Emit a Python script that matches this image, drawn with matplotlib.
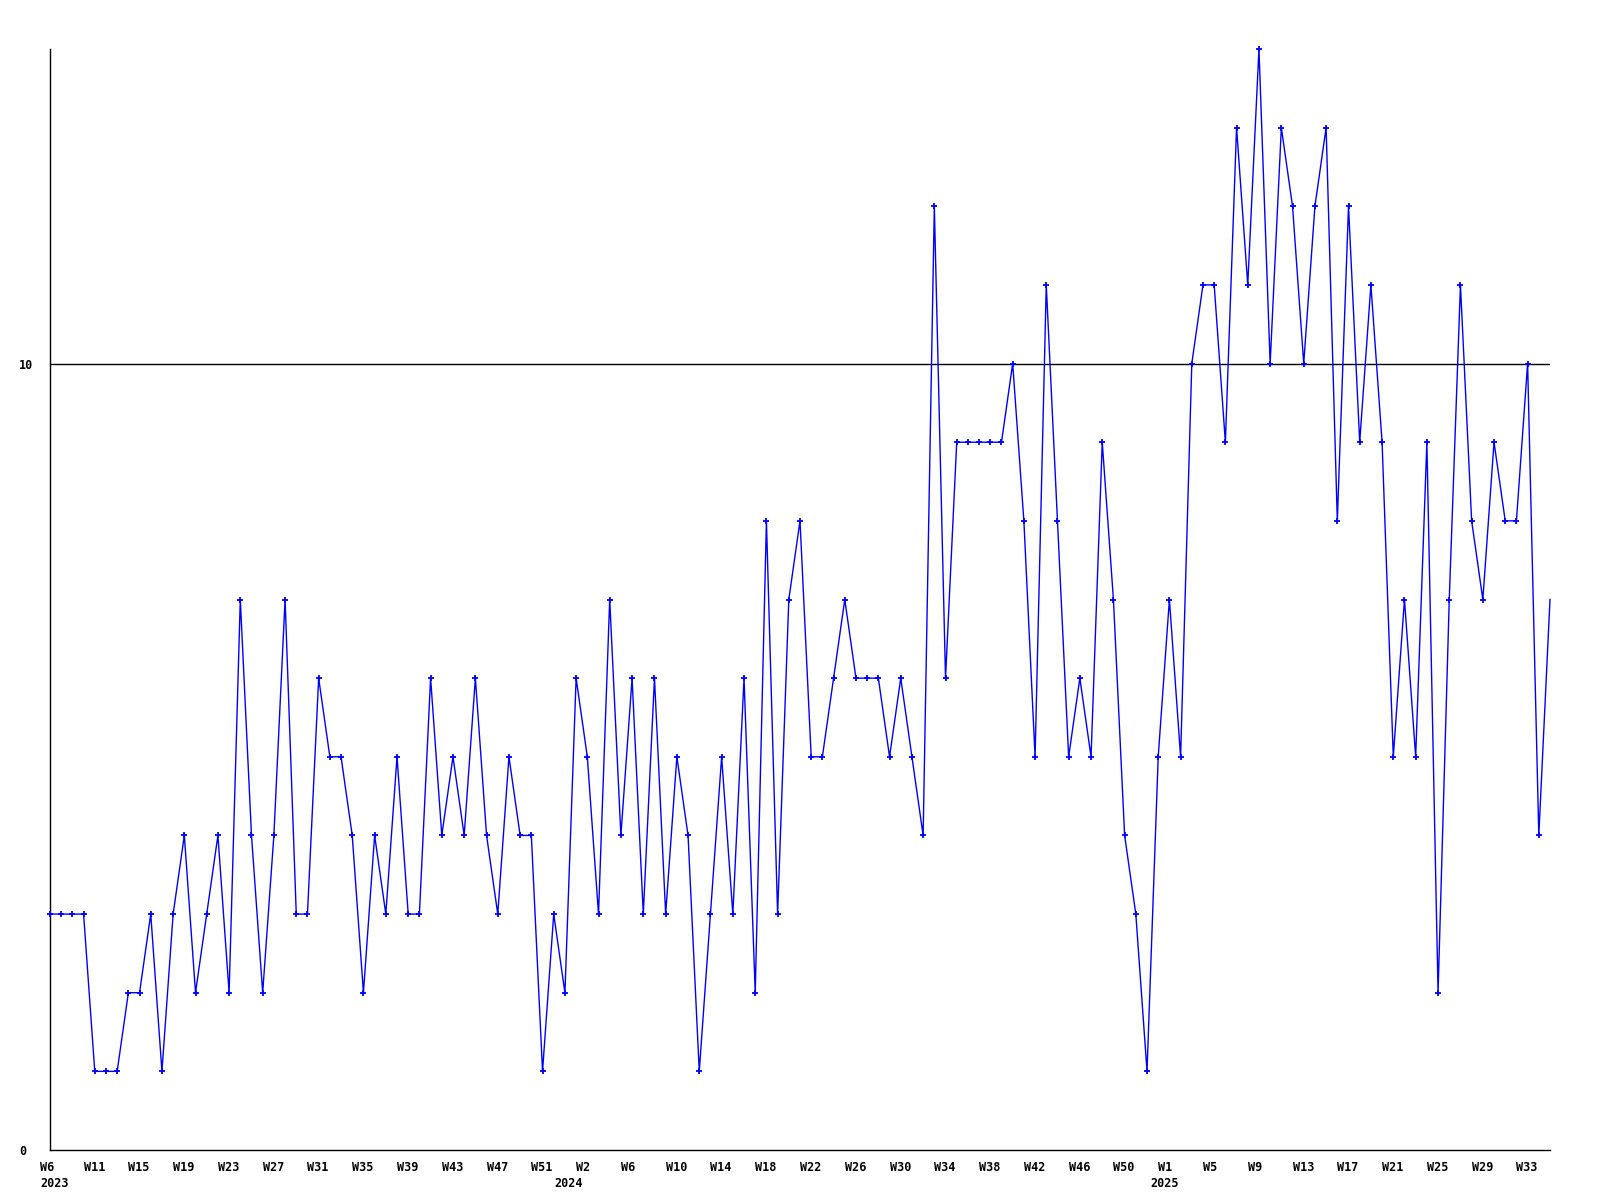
import numpy as np
import matplotlib
matplotlib.use('Agg')
import matplotlib.pyplot as plt
import matplotlib.transforms as mtransforms

# weekly counts, first point is W6 2023
values = [3, 3, 3, 3, 1, 1, 1, 2, 2, 3, 1, 3, 4, 2, 3, 4, 2, 7, 4, 2, 4, 7, 3, 3, 6,
          5, 5, 4, 2, 4, 3, 5, 3, 3, 6, 4, 5, 4, 6, 4, 3, 5, 4, 4, 1, 3, 2, 6, 5,
          3, 7, 4, 6, 3, 6, 3, 5, 4, 1, 3, 5, 3, 6, 2, 8, 3, 7, 8, 5, 5, 6, 7, 6,
          6, 6, 5, 6, 5, 4, 12, 6, 9, 9, 9, 9, 9, 10, 8, 5, 11, 8, 5, 6, 5, 9, 7, 4,
          3, 1, 5, 7, 5, 10, 11, 11, 9, 13, 11, 14, 10, 13, 12, 10, 12, 13, 8, 12, 9,
          11, 9, 5, 7, 5, 9, 2, 7, 11, 8, 7, 9, 8, 8, 10, 4, 7]

week_labels = ['W6', 'W11', 'W15', 'W19', 'W23', 'W27', 'W31', 'W35', 'W39', 'W43', 'W47', 'W51',
               'W2', 'W6', 'W10', 'W14', 'W18', 'W22', 'W26', 'W30', 'W34', 'W38', 'W42', 'W46', 'W50',
               'W1', 'W5', 'W9', 'W13', 'W17', 'W21', 'W25', 'W29', 'W33']
year_labels = ['2023', '2024', '2025']
y_ticks = [0, 10]

x = np.arange(len(values))

fig = plt.figure(figsize=(16, 12), dpi=100)
ax = fig.add_axes([50 / 1600, 50 / 1200, 1500 / 1600, 1101 / 1200])

# last point sits on the right edge, the original shows no marker there
ax.plot(x, values, color='#0000ff', lw=1.0, marker='+', ms=5, mew=1.3, zorder=3,
        clip_on=False, markevery=list(range(len(values) - 1)))
ax.axhline(10, color='black', lw=1.0, zorder=2)

ax.set_xlim(0, len(values) - 1)
ax.set_ylim(0, 14)

for s in ['top', 'right']:
    ax.spines[s].set_visible(False)
for s in ['left', 'bottom']:
    ax.spines[s].set_linewidth(1.0)
    ax.spines[s].set_color('black')

font = dict(family='DejaVu Sans Mono', fontweight='bold', fontsize=8.5)

# y tick labels, left aligned like the original
ax.set_xticks([])
ax.set_yticks(y_ticks)
ax.set_yticklabels([str(v) for v in y_ticks], ha='left', **font)
ax.tick_params(axis='y', length=0, pad=22.5)

# x tick labels: left aligned every 4 points
trans = mtransforms.blended_transform_factory(ax.transData, ax.transAxes)
off = mtransforms.offset_copy(trans, fig=fig, x=0, y=-11, units='dots')
off2 = mtransforms.offset_copy(trans, fig=fig, x=0, y=-27, units='dots')
label_pos = [-0.9] + [3 + 4 * k for k in range(len(week_labels) - 1)]
for lab, p in zip(week_labels, label_pos):
    ax.text(p, 0, lab, transform=off, ha='left', va='top', **font)
for lab, p in zip(year_labels, [-0.9, 45.1, 98.3]):
    ax.text(p, 0, lab, transform=off2, ha='left', va='top', **font)

fig.savefig('out.png', dpi=100, facecolor='white')
